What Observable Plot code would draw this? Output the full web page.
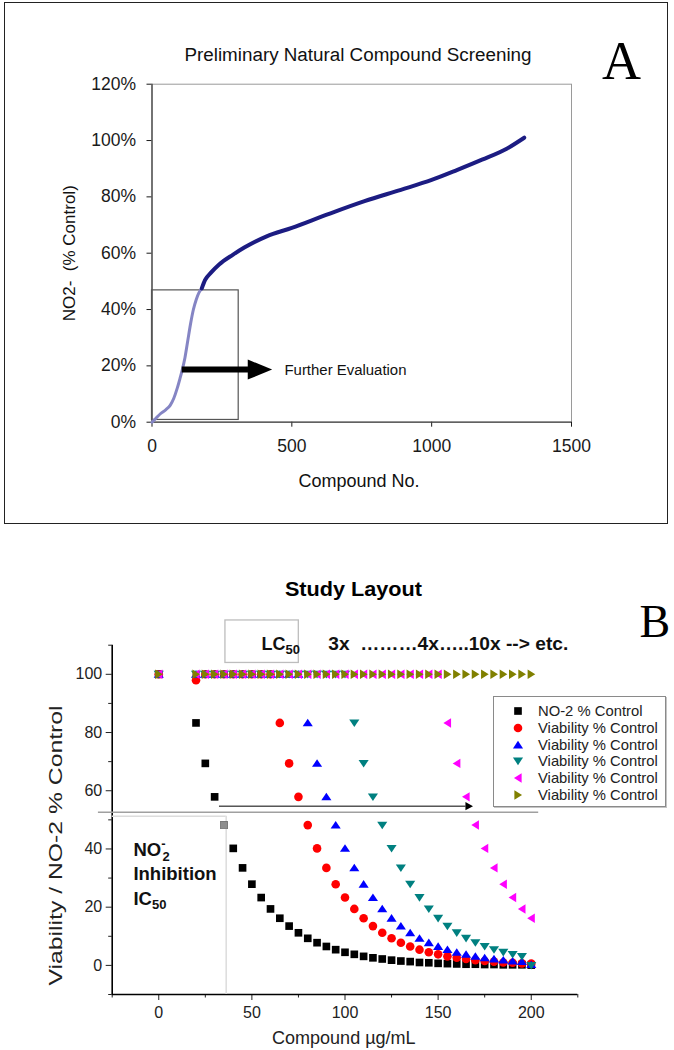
<!DOCTYPE html>
<html><head><meta charset="utf-8">
<script src="https://cdn.jsdelivr.net/npm/d3@7"></script>
<script src="https://cdn.jsdelivr.net/npm/@observablehq/plot@0.6"></script>
<style>
body{margin:0;background:#fff;font-family:"Liberation Sans",Arial,sans-serif;}
#wrap{position:relative;width:674px;height:1050px;overflow:hidden;background:#fff;}
#panelA,#panelB{position:absolute;left:0;}
#panelA{top:0}
#panelB{top:530px}
#borderA{position:absolute;left:4px;top:2px;width:662px;height:520px;border:1.5px solid #222;pointer-events:none;}
#legendB{position:absolute;left:493px;top:696px;width:173px;height:111px;border:1px solid #8a8a8a;box-shadow:1px 1px 0 #c4c4c4;box-sizing:border-box;padding-top:6px;background:#fff;}
.row{height:16.7px;display:flex;align-items:center;font-size:14.8px;color:#222;white-space:nowrap;}
.row svg{margin-left:18px;margin-right:14px;overflow:visible;}
</style></head>
<body>
<div id="wrap">
  <div id="panelA"></div>
  <div id="borderA"></div>
  <div id="panelB"></div>
  <div id="legendB"></div>
</div>
<script>
// ---------- Panel A data ----------
const compoundLight = [0, 15, 30, 50, 65, 78, 90, 100, 108, 118, 128, 138, 148, 158, 168, 178];
const no2Light      = [0, 1.5, 3, 4.5, 6, 8.5, 12, 15.5, 18.5, 23, 29, 35, 40, 43.5, 46, 47.5];
const compoundDark  = [178, 190, 210, 240, 290, 330, 410, 500, 620, 760, 890, 1000, 1090, 1180, 1270, 1331];
const no2Dark       = [47.5, 50.5, 53, 56, 59.5, 62, 66, 69, 73.5, 78.5, 82.5, 86, 89.5, 93.2, 97.2, 101];
const xTicksA = [0, 500, 1000, 1500];
const yTicksA = [0, 20, 40, 60, 80, 100, 120];

// ---------- Panel B data ----------
const conc  = [0, 20, 25, 30, 35, 40, 45, 50, 55, 60, 65, 70, 75, 80, 85, 90, 95, 100, 105, 110, 115, 120, 125, 130, 135, 140, 145, 150, 155, 160, 165, 170, 175, 180, 185, 190, 195, 200];
const no2   = [100, 83.3, 69.4, 57.9, 48.2, 40.2, 33.5, 27.9, 23.3, 19.4, 16.2, 13.5, 11.2, 9.3, 7.8, 6.5, 5.4, 4.5, 3.8, 3.1, 2.6, 2.2, 1.8, 1.5, 1.3, 1.0, 0.9, 0.7, 0.6, 0.5, 0.4, 0.4, 0.3, 0.3, 0.2, 0.2, 0.2, 0.1];
const viab1 = [100, 98, 100, 100, 100, 100, 100, 100, 100, 100, 83.3, 69.4, 57.9, 48.2, 40.2, 33.5, 27.9, 23.3, 19.4, 16.2, 13.5, 11.2, 9.3, 7.8, 6.5, 5.4, 4.5, 3.8, 3.1, 2.6, 2.2, 1.8, 1.5, 1.3, 1.0, 0.9, 0.7, 0.6];
const viab2 = [100, 100, 100, 100, 100, 100, 100, 100, 100, 100, 100, 100, 100, 83.3, 69.4, 57.9, 48.2, 40.2, 33.5, 27.9, 23.3, 19.4, 16.2, 13.5, 11.2, 9.3, 7.8, 6.5, 5.4, 4.5, 3.8, 3.1, 2.6, 2.2, 1.8, 1.5, 1.3, 0.3];
const viab3 = [100, 100, 100, 100, 100, 100, 100, 100, 100, 100, 100, 100, 100, 100, 100, 100, 100, 100, 83.3, 69.4, 57.9, 48.2, 40.2, 33.5, 27.9, 23.3, 19.4, 16.2, 13.5, 11.2, 9.3, 7.8, 6.5, 5.4, 4.5, 3.8, 3.1, 0];
const viab4 = [100, 100, 100, 100, 100, 100, 100, 100, 100, 100, 100, 100, 100, 100, 100, 100, 100, 100, 100, 100, 100, 100, 100, 100, 100, 100, 100, 100, 83.3, 69.4, 57.9, 48.2, 40.2, 33.5, 27.9, 23.3, 19.4, 16.2];
const viab5 = [100, 100, 100, 100, 100, 100, 100, 100, 100, 100, 100, 100, 100, 100, 100, 100, 100, 100, 100, 100, 100, 100, 100, 100, 100, 100, 100, 100, 100, 100, 100, 100, 100, 100, 100, 100, 100, 100];
const seriesNames = ["NO-2 % Control", "Viability % Control", "Viability % Control", "Viability % Control", "Viability % Control", "Viability % Control"];
const xTicksB = [0, 50, 100, 150, 200];
const xMinorB = [-25, 25, 75, 125, 175, 225];
const yTicksB = [0, 20, 40, 60, 80, 100];
const yMinorB = [-10, 10, 30, 50, 70, 90, 110];

// ---------- symbols ----------
const R = s => Math.sqrt(s / Math.PI);
const symSquare = {draw(c, s){const r = R(s)*0.85; c.moveTo(-r,-r); c.lineTo(r,-r); c.lineTo(r,r); c.lineTo(-r,r); c.closePath();}};
const symCircle = {draw(c, s){const r = R(s); c.moveTo(r,0); c.arc(0,0,r,0,2*Math.PI);}};
const symUp    = {draw(c, s){const r = R(s); c.moveTo(0,-r*0.9); c.lineTo(r*1.1,r*0.75); c.lineTo(-r*1.1,r*0.75); c.closePath();}};
const symDown  = {draw(c, s){const r = R(s); c.moveTo(0,r*0.9); c.lineTo(r*1.1,-r*0.75); c.lineTo(-r*1.1,-r*0.75); c.closePath();}};
const symLeft  = {draw(c, s){const r = R(s); c.moveTo(-r*0.9,0); c.lineTo(r*0.8,-r*1.05); c.lineTo(r*0.8,r*1.05); c.closePath();}};
const symRight = {draw(c, s){const r = R(s); c.moveTo(r*0.9,0); c.lineTo(-r*0.8,-r*1.05); c.lineTo(-r*0.8,r*1.05); c.closePath();}};
const headA    = {draw(c, s){const r = R(s); c.moveTo(r,0); c.lineTo(-r,-r*0.82); c.lineTo(-r,r*0.82); c.closePath();}};
const headB    = {draw(c, s){const r = R(s); c.moveTo(r,0); c.lineTo(-r,-r*1.1); c.lineTo(-r,r*1.1); c.closePath();}};

const SANS = '"Liberation Sans", Arial, Helvetica, sans-serif';
const SERIF = '"Liberation Serif", "Times New Roman", Times, serif';

function findText(svg, content) {
  return d3.select(svg).selectAll("text").filter(function() { return this.textContent === content; });
}
// stretch a text element to a measured length (the source figure is stretched)
function fitText(svg, content, len) {
  findText(svg, content).attr("textLength", len).attr("lengthAdjust", "spacingAndGlyphs");
}
// rebuild a text element with sub/superscript tspans
function richText(svg, content, parts) {
  findText(svg, content).each(function() {
    const t = d3.select(this);
    t.text(null);
    for (const [s, o] of parts) {
      const ts = t.append("tspan").text(s);
      if (o) for (const k in o) ts.attr(k, o[k]);
    }
  });
}

// ---------- Panel A ----------
const lightData = compoundLight.map((c, i) => ({c, v: no2Light[i]}));
const darkData = compoundDark.map((c, i) => ({c, v: no2Dark[i]}));

const plotA = Plot.plot({
  width: 674, height: 530,
  marginLeft: 151.5, marginRight: 103, marginTop: 83.7, marginBottom: 108.3,
  x: {domain: [0, 1500]},
  y: {domain: [0, 120]},
  style: {fontFamily: SANS, fontSize: "17.5px", color: "#1a1a1a", background: "transparent", overflow: "visible"},
  marks: [
    Plot.frame({stroke: "#9a9a9a", strokeWidth: 1}),
    Plot.axisX({ticks: xTicksA, tickSize: 5, tickPadding: 12, tickFormat: d => String(d), label: null}),
    Plot.axisY({ticks: yTicksA, tickSize: 5, tickPadding: 11, tickFormat: d => d + "%", label: null}),
    Plot.ruleX([0], {stroke: "#444", strokeWidth: 1.3}),
    Plot.ruleY([0], {stroke: "#444", strokeWidth: 1.3}),
    Plot.rect([{}], {x1: 0, x2: 310, y1: 0.8, y2: 46.8, stroke: "#555", strokeWidth: 1.2, fill: "none"}),
    Plot.line(lightData, {x: "c", y: "v", stroke: "#8585c4", strokeWidth: 3, curve: "monotone-x"}),
    Plot.line(darkData, {x: "c", y: "v", stroke: "#1c1c82", strokeWidth: 4, curve: "monotone-x"}),
    Plot.ruleY([18.7], {x1: 108, x2: 345, stroke: "#000", strokeWidth: 6}),
    Plot.dot([{}], {x: 386, y: 18.7, r: 12.2, symbol: headA, fill: "#000"}),
    Plot.text(["Further Evaluation"], {x: 473.7, y: 16.6, textAnchor: "start", lineAnchor: "bottom", fontSize: 14, fill: "#111"}),
    Plot.text(["Preliminary Natural Compound Screening"], {frameAnchor: "top", textAnchor: "middle", dx: -3.75, dy: -23.2, lineAnchor: "bottom", fontSize: 18, fill: "#111"}),
    Plot.text(["A"], {frameAnchor: "top-right", textAnchor: "middle", dx: 50, dy: -5.7, lineAnchor: "bottom", fontSize: 54, fontFamily: SERIF, fill: "#000"}),
    Plot.text(["NO2-\u00a0 (% Control)"], {frameAnchor: "left", textAnchor: "middle", dx: -77.5, rotate: -90, lineAnchor: "bottom", fontSize: 17, fill: "#111"}),
    Plot.text(["Compound No."], {frameAnchor: "bottom", textAnchor: "middle", dx: -2.75, dy: 64.3, lineAnchor: "bottom", fontSize: 18, fill: "#111"})
  ]
});
fitText(plotA, "Preliminary Natural Compound Screening", 347);
fitText(plotA, "Further Evaluation", 122);
document.getElementById("panelA").appendChild(plotA);

// ---------- Panel B ----------
const mk = arr => conc.map((x, i) => ({x, y: arr[i]}));
const seriesB = [
  {data: mk(no2),   sym: symSquare, r: 4.5, color: "#000000"},
  {data: mk(viab1), sym: symCircle, r: 4.3, color: "#ff0000"},
  {data: mk(viab2), sym: symUp,     r: 4.6, color: "#0000ff"},
  {data: mk(viab3), sym: symDown,   r: 4.6, color: "#008080"},
  {data: mk(viab4), sym: symLeft,   r: 4.5, color: "#ff00ff"},
  {data: mk(viab5), sym: symRight,  r: 4.5, color: "#808000"}
];

const plotB = Plot.plot({
  width: 674, height: 520,
  marginLeft: 111.7, marginRight: 96.7, marginTop: 114.7, marginBottom: 56,
  x: {domain: [-25, 225]},
  y: {domain: [-10, 110]},
  style: {fontFamily: SANS, fontSize: "16px", color: "#222", background: "transparent", overflow: "visible"},
  marks: [
    Plot.axisX({ticks: xTicksB, tickSize: 6, tickPadding: 6, label: null}),
    Plot.axisX({ticks: xMinorB, tickSize: 3.5, tickFormat: () => "", label: null}),
    Plot.axisY({ticks: yTicksB, tickSize: 6, tickPadding: 4, label: null}),
    Plot.axisY({ticks: yMinorB, tickSize: 3.5, tickFormat: () => "", label: null}),
    Plot.ruleX([-25], {y1: -10, y2: 110, stroke: "#000", strokeWidth: 1.6}),
    Plot.ruleY([-10], {x1: -25, x2: 225, stroke: "#000", strokeWidth: 1.6}),
    Plot.ruleY([51.2], {x1: -25, x2: 36.2, stroke: "#dcdcdc", strokeWidth: 1.5}),
    Plot.ruleX([36.2], {y1: -10, y2: 51.2, stroke: "#dcdcdc", strokeWidth: 1.5}),
    Plot.ruleY([52.6], {x1: -32.4, x2: 204, stroke: "#a0a0a0", strokeWidth: 1.5}),
    Plot.rect([{}], {x1: 35.8, x2: 75.2, y1: 103.9, y2: 118.5, stroke: "#bdbdbd", strokeWidth: 1.3, fill: "none"}),
    ...seriesB.map(s => Plot.dot(s.data, {x: "x", y: "y", r: s.r, symbol: s.sym, fill: s.color})),
    Plot.dot(seriesB[0].data, {filter: d => d.x === 35, x: "x", y: "y", r: 4.5, symbol: symSquare, fill: "#8e8e8e"}),
    Plot.ruleY([54.7], {x1: 32.6, x2: 165, stroke: "#000", strokeWidth: 1}),
    Plot.dot([{}], {x: 166.7, y: 54.7, r: 3.8, symbol: headB, fill: "#000"}),
    Plot.text(["LC50"], {x: 55.2, y: 108.4, textAnchor: "start", lineAnchor: "bottom", fontSize: 18, fontWeight: "bold", fill: "#111"}),
    Plot.text(["3x\u00a0 \u2026\u2026\u20264x\u2026..10x --> etc."], {x: 91, y: 108.4, textAnchor: "start", lineAnchor: "bottom", fontSize: 18, fontWeight: "bold", fill: "#111"}),
    Plot.text(["NO-2"], {x: -13.6, y: 37.7, textAnchor: "start", lineAnchor: "bottom", fontSize: 18.5, fontWeight: "bold", fill: "#111"}),
    Plot.text(["Inhibition"], {x: -13.6, y: 29.3, textAnchor: "start", lineAnchor: "bottom", fontSize: 18.5, fontWeight: "bold", fill: "#111"}),
    Plot.text(["IC50"], {x: -13.6, y: 20.8, textAnchor: "start", lineAnchor: "bottom", fontSize: 18.5, fontWeight: "bold", fill: "#111"}),
    Plot.text(["Study Layout"], {frameAnchor: "top", textAnchor: "middle", dx: 8.4, dy: -48.9, lineAnchor: "bottom", fontSize: 20.5, fontWeight: "bold", fill: "#000"}),
    Plot.text(["B"], {frameAnchor: "top-right", dx: 61.7, dy: -8.7, textAnchor: "start", lineAnchor: "bottom", fontSize: 46, fontFamily: SERIF, fill: "#000"}),
    Plot.text(["Viability / NO-2 % Control"], {frameAnchor: "left", textAnchor: "middle", dx: -49.7, dy: 25.6, rotate: -90, lineAnchor: "bottom", fontSize: 17.5, fill: "#222"}),
    Plot.text(["Compound \u00b5g/mL"], {frameAnchor: "bottom", textAnchor: "middle", dx: -1.2, dy: 49, lineAnchor: "bottom", fontSize: 18, fill: "#222"})
  ]
});
fitText(plotB, "Viability / NO-2 % Control", 280);
fitText(plotB, "3x\u00a0 \u2026\u2026\u20264x\u2026..10x --> etc.", 240);
fitText(plotB, "Study Layout", 137);
richText(plotB, "LC50", [["LC"], ["50", {"font-size": 13, dy: 4}]]);
richText(plotB, "IC50", [["IC"], ["50", {"font-size": 13, dy: 4}]]);
richText(plotB, "NO-2", [["NO"], ["-", {"font-size": 13, dy: -8}], ["2", {"font-size": 13, dx: -3, dy: 13}]]);
document.getElementById("panelB").appendChild(plotB);

// ---------- Legend B ----------
const leg = document.getElementById("legendB");
seriesB.forEach((s, i) => {
  const row = document.createElement("div");
  row.className = "row";
  const path = d3.symbol().type(s.sym).size(Math.PI * s.r * s.r)();
  row.innerHTML = `<svg width="12" height="12" viewBox="-6 -6 12 12"><path d="${path}" fill="${s.color}"></path></svg><span>${seriesNames[i]}</span>`;
  leg.appendChild(row);
});
</script>
</body></html>
